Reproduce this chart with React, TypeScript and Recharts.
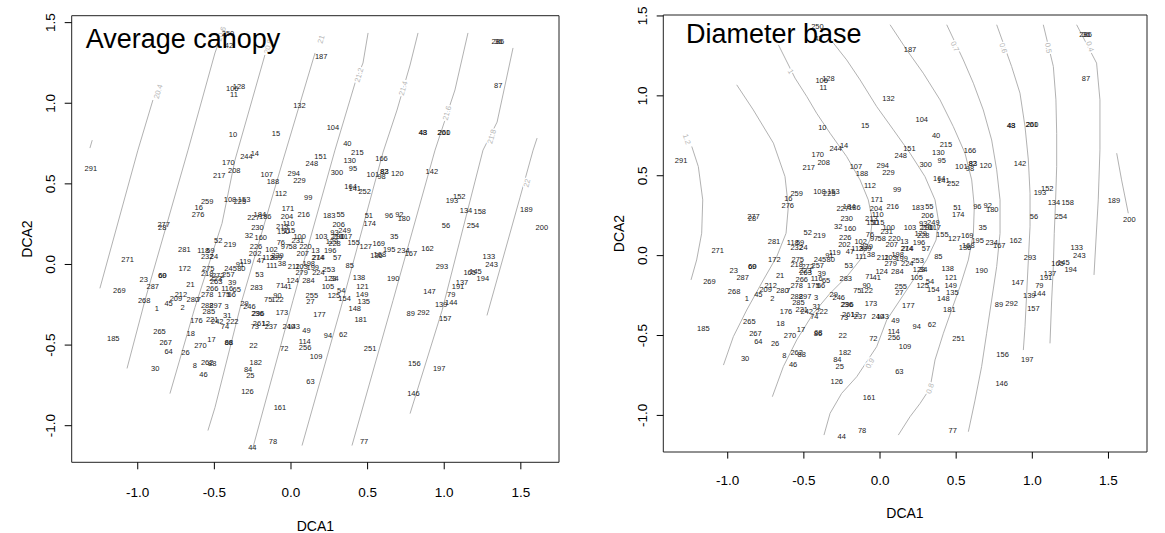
import { ScatterChart, Scatter, XAxis, YAxis, ReferenceArea } from 'recharts'

// DCA site scores (same ordination in both panels)
const siteIds = [
  '250', '42', '187', '286', '36', '87', '106', '128', '11', '132', '104', '10', '15', '48', '43', '201', '260',
  '40', '215', '14', '244', '151', '166', '130', '170', '248', '95', '208', '291', '142', '300', '107', '294',
  '101', '82', '83', '98', '120', '217', '188', '229', '164', '141', '252', '112', '99', '152', '193', '259',
  '108', '153', '225', '16', '189', '134', '158', '171', '276', '216', '227', '184', '186', '204', '183', '55',
  '51', '96', '92', '180', '206', '254', '56', '174', '110', '277', '28', '230', '213', '150', '115', '249',
  '93', '210', '290', '117', '103', '100', '35', '52', '219', '32', '160', '231', '155', '129', '228', '127',
  '169', '76', '97', '58', '220', '226', '102', '202', '281', '118', '59', '232', '24', '207', '13', '274',
  '214', '196', '57', '195', '234', '167', '136', '168', '162', '133', '243', '47', '113', '289', '239', '119',
  '91', '80', '245', '257', '111', '38', '172', '275', '218', '272', '223', '263', '39', '266', '278', '116',
  '65', '175', '66', '53', '211', '203', '198', '199', '279', '253', '224', '85', '293', '165', '145', '194',
  '23', '69', '60', '287', '21', '138', '190', '124', '284', '123', '34', '71', '41', '283', '121', '105',
  '54', '137', '191', '269', '147', '149', '125', '255', '90', '75', '122', '154', '79', '212', '209', '280',
  '7', '268', '45', '27', '135', '144', '139', '1', '2', '3', '288', '297', '285', '29', '246', '148', '89',
  '292', '173', '236', '296', '177', '31', '176', '221', '242', '222', '181', '157', '74', '261', '12', '73',
  '237', '240', '143', '49', '62', '94', '265', '18', '185', '17', '267', '86', '68', '270', '22', '114',
  '251', '72', '256', '64', '26', '109', '182', '156', '262', '88', '30', '8', '197', '84', '25', '46', '63',
  '126', '146', '161', '78', '77', '44', '200', '271',
]

const dca1 = [
  -0.411, -0.405, 0.197, 1.35, 1.353, 1.352, -0.383, -0.339, -0.372, 0.055, 0.274, -0.379, -0.098, 0.86, 0.862, 0.996, 0.999,
  0.368, 0.433, -0.236, -0.291, 0.193, 0.591, 0.383, -0.409, 0.136, 0.405, -0.37, -1.306, 0.919, 0.3, -0.158, 0.018,
  0.534, 0.608, 0.61, 0.591, 0.694, -0.468, -0.118, 0.055, 0.389, 0.416, 0.481, -0.066, 0.112, 1.098, 1.05, -0.547,
  -0.398, -0.306, -0.333, -0.602, 1.536, 1.142, 1.232, -0.02, -0.606, 0.083, -0.245, -0.203, -0.168, -0.026, 0.249, 0.324,
  0.508, 0.639, 0.707, 0.737, 0.311, 1.188, 1.011, 0.514, -0.015, -0.831, -0.84, -0.219, -0.057, -0.05, -0.011, 0.35,
  0.284, 0.3, 0.311, 0.361, 0.197, 0.057, 0.674, -0.475, -0.398, -0.274, -0.197, 0.044, 0.409, 0.267, 0.284, 0.488,
  0.573, -0.066, -0.039, 0.011, 0.094, -0.228, -0.127, -0.234, -0.696, -0.573, -0.525, -0.547, -0.503, 0.077, 0.16, 0.175,
  0.18, 0.256, 0.302, 0.641, 0.733, 0.783, 0.558, 0.58, 0.891, 1.291, 1.309, -0.197, -0.149, -0.098, -0.088, -0.298,
  -0.333, -0.324, -0.394, -0.409, -0.125, -0.059, -0.694, -0.54, -0.547, -0.475, -0.492, -0.488, -0.383, -0.514, -0.547, -0.416,
  -0.354, -0.438, -0.387, -0.206, 0.018, 0.07, 0.116, 0.142, 0.07, 0.247, 0.179, 0.383, 0.985, 1.166, 1.204, 1.252,
  -0.961, -0.84, -0.838, -0.902, -0.656, 0.444, 0.667, 0.011, 0.114, 0.256, 0.284, -0.07, -0.022, -0.225, 0.466, 0.241,
  0.328, 1.116, 1.09, -1.12, 0.904, 0.464, 0.28, 0.136, -0.088, -0.149, -0.088, 0.35, 1.046, -0.718, -0.751, -0.641,
  -0.602, -0.958, -0.799, 0.127, 0.475, 1.046, 0.98, -0.875, -0.707, -0.42, -0.547, -0.492, -0.536, -0.304, -0.271, 0.416, 0.781,
  0.864, -0.059, -0.219, -0.214, 0.186, -0.416, -0.617, -0.514, -0.481, -0.383, 0.455, 1.007, -0.431, -0.208, -0.164, -0.236,
  -0.131, -0.015, 0.018, 0.101, 0.341, 0.241, -0.858, -0.654, -1.16, -0.519, -0.818, -0.407, -0.405, -0.591, -0.245, 0.09,
  0.516, -0.044, 0.092, -0.799, -0.689, 0.164, -0.23, 0.805, -0.547, -0.514, -0.886, -0.628, 0.967, -0.28, -0.265, -0.571, 0.127,
  -0.284, 0.799, -0.072, -0.118, 0.477, -0.252, 1.637, -1.066,
]

const dca2 = [
  1.434, 1.357, 1.292, 1.386, 1.386, 1.109, 1.094, 1.106, 1.054, 0.985, 0.85, 0.804, 0.812, 0.816, 0.816, 0.82, 0.82,
  0.752, 0.697, 0.691, 0.668, 0.672, 0.656, 0.643, 0.635, 0.624, 0.593, 0.58, 0.593, 0.574, 0.57, 0.56, 0.564,
  0.56, 0.578, 0.578, 0.543, 0.564, 0.551, 0.514, 0.518, 0.482, 0.472, 0.451, 0.438, 0.413, 0.42, 0.395, 0.39,
  0.401, 0.401, 0.388, 0.355, 0.342, 0.334, 0.33, 0.349, 0.311, 0.309, 0.292, 0.307, 0.299, 0.296, 0.303, 0.307,
  0.303, 0.305, 0.311, 0.286, 0.251, 0.242, 0.242, 0.255, 0.255, 0.248, 0.23, 0.23, 0.234, 0.205, 0.209, 0.209,
  0.198, 0.175, 0.175, 0.175, 0.175, 0.175, 0.175, 0.146, 0.125, 0.182, 0.169, 0.15, 0.134, 0.14, 0.127, 0.109,
  0.127, 0.134, 0.109, 0.109, 0.109, 0.111, 0.09, 0.071, 0.09, 0.084, 0.084, 0.05, 0.05, 0.067, 0.086, 0.046,
  0.046, 0.084, 0.042, 0.092, 0.084, 0.065, 0.054, 0.061, 0.096, 0.052, -0.002, 0.027, 0.044, 0.044, 0.056, 0.021,
  -0.002, -0.023, -0.027, -0.063, -0.008, 0.004, -0.027, -0.027, -0.054, -0.069, -0.09, -0.106, -0.111, -0.148, -0.184, -0.146,
  -0.157, -0.184, -0.184, -0.063, -0.013, -0.013, 0.008, -0.017, -0.048, -0.033, -0.052, -0.006, -0.013, -0.048, -0.044, -0.084,
  -0.094, -0.069, -0.069, -0.136, -0.127, -0.081, -0.09, -0.1, -0.1, -0.086, -0.086, -0.132, -0.138, -0.142, -0.138, -0.138,
  -0.161, -0.111, -0.138, -0.163, -0.169, -0.188, -0.19, -0.194, -0.19, -0.217, -0.217, -0.213, -0.188, -0.188, -0.213, -0.219,
  -0.219, -0.226, -0.242, -0.23, -0.23, -0.236, -0.251, -0.271, -0.267, -0.261, -0.253, -0.253, -0.292, -0.244, -0.263, -0.271, -0.303,
  -0.299, -0.299, -0.303, -0.303, -0.309, -0.319, -0.347, -0.34, -0.351, -0.351, -0.34, -0.334, -0.382, -0.367, -0.367, -0.386,
  -0.382, -0.382, -0.382, -0.409, -0.432, -0.441, -0.415, -0.426, -0.457, -0.463, -0.486, -0.486, -0.484, -0.501, -0.501, -0.476,
  -0.52, -0.52, -0.514, -0.539, -0.549, -0.568, -0.608, -0.616, -0.608, -0.616, -0.643, -0.628, -0.647, -0.653, -0.691, -0.683, -0.727,
  -0.787, -0.8, -0.885, -1.096, -1.096, -1.134, 0.228, 0.029,
]

// fitted surface contours, [DCA1, DCA2] along each line
const canopyContours = [
  { level: '', label: null, pts: [[-1.312, 0.722], [-1.297, 0.771]] },
  { level: '20.4', label: [-0.866, 1.072], pts: [[-1.247, -0.148], [-0.999, 0.709], [-0.901, 1.02]] },
  { level: '20.6', label: [-0.455, 1.43], pts: [[-1.07, -0.645], [-0.953, -0.223], [-0.672, 0.709], [-0.496, 1.312], [-0.47, 1.38]] },
  { level: '20.8', label: [-0.148, 1.351], pts: [[-0.79, -0.801], [-0.627, -0.267], [-0.45, 0.255], [-0.366, 0.646], [-0.17, 1.3]] },
  { level: '21', label: [0.196, 1.397], pts: [[-0.542, -1.03], [-0.496, -0.887], [-0.32, -0.223], [-0.052, 0.647], [0.157, 1.312]] },
  { level: '21.2', label: [0.444, 1.175], pts: [[-0.248, -1.135], [0.013, -0.223], [0.287, 0.709], [0.418, 1.125], [0.47, 1.25], [0.503, 1.436]] },
  { level: '21.4', label: [0.733, 1.093], pts: [[0.072, -1.123], [0.339, -0.223], [0.601, 0.697], [0.692, 0.958], [0.777, 1.237], [0.829, 1.436]] },
  { level: '21.6', label: [1.018, 0.939], pts: [[0.398, -1.123], [0.666, -0.223], [0.94, 0.709], [1.07, 1.082], [1.155, 1.436]] },
  { level: '21.8', label: [1.31, 0.793], pts: [[0.777, -0.925], [0.986, -0.285], [1.253, 0.709], [1.345, 0.883], [1.449, 1.343]] },
  { level: '22', label: [1.54, 0.505], pts: [[1.279, -0.316], [1.495, 0.417], [1.58, 0.709], [1.606, 0.784]] },
]

const diameterContours = [
  { level: '1.2', label: [-1.269, 0.729], pts: [[-1.236, 0.683], [-1.193, 0.557], [-1.164, 0.349], [-1.171, 0.14], [-1.204, -0.027], [-1.241, -0.152]] },
  { level: '', label: null, pts: [[-0.941, 1.069], [-0.832, 0.912], [-0.7, 0.704], [-0.624, 0.495], [-0.602, 0.307], [-0.617, 0.14], [-0.678, -0.006], [-0.766, -0.152], [-0.875, -0.34], [-0.963, -0.507], [-1.028, -0.685]] },
  { level: '1', label: [-0.586, 1.152], pts: [[-0.667, 1.319], [-0.558, 1.111], [-0.481, 0.996], [-0.416, 0.891], [-0.328, 0.766], [-0.219, 0.62], [-0.131, 0.474], [-0.077, 0.349], [-0.05, 0.223], [-0.066, 0.098], [-0.131, -0.027], [-0.219, -0.132], [-0.328, -0.236], [-0.438, -0.361], [-0.547, -0.528], [-0.635, -0.695], [-0.707, -0.883]] },
  { level: '0.9', label: [-0.066, -0.674], pts: [[-0.306, 1.33], [-0.219, 1.225], [-0.131, 1.1], [-0.022, 0.933], [0.088, 0.787], [0.197, 0.641], [0.295, 0.495], [0.361, 0.349], [0.383, 0.223], [0.368, 0.098], [0.306, -0.027], [0.219, -0.152], [0.131, -0.278], [0.044, -0.403], [-0.022, -0.57], [-0.153, -0.758], [-0.252, -0.862], [-0.328, -0.987], [-0.368, -1.123]] },
  { level: '0.8', label: [0.328, -0.831], pts: [[0.066, 1.445], [0.175, 1.288], [0.284, 1.142], [0.394, 0.975], [0.481, 0.808], [0.558, 0.641], [0.602, 0.474], [0.619, 0.307], [0.613, 0.14], [0.58, -0.027], [0.525, -0.194], [0.47, -0.34], [0.416, -0.486], [0.361, -0.653], [0.328, -0.831], [0.263, -0.925], [0.197, -1.008], [0.12, -1.123]] },
  { level: '0.7', label: [0.492, 1.309], pts: [[0.438, 1.445], [0.547, 1.225], [0.613, 1.079], [0.678, 0.912], [0.733, 0.724], [0.766, 0.537], [0.788, 0.349], [0.788, 0.14], [0.766, -0.069], [0.733, -0.278], [0.7, -0.486], [0.667, -0.695], [0.624, -0.904], [0.58, -1.102]] },
  { level: '0.6', label: [0.81, 1.299], pts: [[0.766, 1.445], [0.864, 1.184], [0.919, 1.017], [0.952, 0.808], [0.974, 0.599], [0.985, 0.39], [0.985, 0.182], [0.974, -0.027], [0.963, -0.236], [0.952, -0.445], [0.941, -0.591]] },
  { level: '0.5', label: [1.105, 1.299], pts: [[1.072, 1.445], [1.138, 1.184], [1.155, 0.975], [1.16, 0.766], [1.16, 0.557], [1.153, 0.349], [1.144, 0.14], [1.138, -0.069], [1.127, -0.278], [1.116, -0.549]] },
  { level: '0.4', label: [1.379, 1.309], pts: [[1.291, 1.445], [1.422, 1.205], [1.444, 0.975], [1.444, 0.662], [1.433, 0.349], [1.418, 0.098], [1.405, -0.121]] },
  { level: '', label: null, pts: [[1.554, 0.641], [1.586, 0.474], [1.63, 0.265]] },
]

const TICKS = [-1, -0.5, 0, 0.5, 1, 1.5]
const FONT = '"Liberation Sans", Arial, Helvetica, sans-serif'

const sites = siteIds.map((id, i) => ({ id, x: dca1[i], y: dca2[i] }))

type Contour = { level: string; label: number[] | null; pts: number[][] }

interface PanelProps {
  left: number
  width: number
  margin: { top: number; right: number }
  yAxisWidth: number
  xAxisHeight: number
  xDomain: [number, number]
  yDomain: [number, number]
  pxPerX: number
  pxPerY: number
  yLabelX: number
  xLabelY: number
  tickSize: number
  contours: Contour[]
}

// angle of the contour near its label, in screen degrees, kept readable
function labelAngle(c: Contour, kx: number, ky: number) {
  const [lx, ly] = c.label as number[]
  let best = 0
  let bestD = Infinity
  c.pts.forEach(([x, y], i) => {
    const d = (x - lx) ** 2 + (y - ly) ** 2
    if (d < bestD) { bestD = d; best = i }
  })
  const a = c.pts[Math.max(best - 1, 0)]
  const b = c.pts[Math.min(best + 1, c.pts.length - 1)]
  let deg = Math.atan2(-(b[1] - a[1]) * ky, (b[0] - a[0]) * kx) * 180 / Math.PI
  if (deg > 90) deg -= 180
  if (deg < -90) deg += 180
  return deg
}

function Panel(p: PanelProps) {
  const [x0, x1] = p.xDomain
  const [y0, y1] = p.yDomain
  return (
    <div style={{ position: 'absolute', left: p.left, top: 0 }}>
      <ScatterChart
        width={p.width}
        height={533}
        margin={{ top: p.margin.top, right: p.margin.right, bottom: 0, left: 0 }}
      >
        <XAxis
          type="number" dataKey="x" domain={p.xDomain} ticks={TICKS} allowDataOverflow
          height={p.xAxisHeight} axisLine={false} tickSize={p.tickSize}
          tickLine={{ stroke: '#000' }}
          tick={(t: any) => (
            <text x={t.x} y={p.xLabelY} textAnchor="middle" fontSize={13.5} fontFamily={FONT} fill="#000">
              {Number(t.payload.value).toFixed(1)}
            </text>
          )}
        />
        <YAxis
          type="number" dataKey="y" domain={p.yDomain} ticks={TICKS} allowDataOverflow
          width={p.yAxisWidth} axisLine={false} tickSize={p.tickSize}
          tickLine={{ stroke: '#000' }}
          tick={(t: any) => (
            <text
              x={p.yLabelX} y={t.y} textAnchor="middle" fontSize={13.5} fontFamily={FONT} fill="#000"
              transform={`rotate(-90 ${p.yLabelX} ${t.y})`}
            >
              {Number(t.payload.value).toFixed(1)}
            </text>
          )}
        />
        <ReferenceArea x1={x0} x2={x1} y1={y0} y2={y1} fill="none" stroke="#222" strokeWidth={1} ifOverflow="visible" />

        {p.contours.map((c, i) => (
          <Scatter
            key={`c${i}`}
            data={c.pts.map(([x, y]) => ({ x, y }))}
            line={{ stroke: '#a8a8a8', strokeWidth: 0.9 }}
            lineType="joint"
            shape={() => <g />}
            isAnimationActive={false}
          />
        ))}

        {p.contours.filter(c => c.label).map((c, i) => {
          const ang = labelAngle(c, p.pxPerX, p.pxPerY)
          return (
            <Scatter
              key={`l${i}`}
              data={[{ x: (c.label as number[])[0], y: (c.label as number[])[1] }]}
              isAnimationActive={false}
              shape={(s: any) => (
                <text
                  x={s.cx} y={s.cy} textAnchor="middle" dominantBaseline="central"
                  fontSize={7.5} fontFamily={FONT} fill="#b4b4b4"
                  stroke="#fff" strokeWidth={3} paintOrder="stroke"
                  transform={`rotate(${ang} ${s.cx} ${s.cy})`}
                >
                  {c.level}
                </text>
              )}
            />
          )
        })}

        <Scatter
          data={sites}
          isAnimationActive={false}
          shape={(s: any) => (
            <text
              x={s.cx} y={s.cy} textAnchor="middle" dominantBaseline="central"
              fontSize={7.5} fontFamily={FONT} fill="#1a1a1a"
            >
              {s.payload.id}
            </text>
          )}
        />
      </ScatterChart>
    </div>
  )
}

export default function App() {
  return (
    <div style={{ position: 'absolute', left: 0, top: 0, width: 1165, height: 533, background: '#fff' }}>
      <Panel
        left={0} width={580}
        margin={{ top: 15.7, right: 21 }}
        yAxisWidth={71.7} xAxisHeight={70.7}
        xDomain={[-1.431, 1.749]} yDomain={[-1.227, 1.543]}
        pxPerX={153.2} pxPerY={161.2}
        yLabelX={55} xLabelY={496.6} tickSize={7}
        contours={canopyContours}
      />
      <Panel
        left={580} width={585}
        margin={{ top: 15, right: 18 }}
        yAxisWidth={83.3} xAxisHeight={81}
        xDomain={[-1.423, 1.753]} yDomain={[-1.229, 1.506]}
        pxPerX={152.3} pxPerY={159.7}
        yLabelX={66.6} xLabelY={484.9} tickSize={6.6}
        contours={diameterContours}
      />

      {/* panel titles and axis titles */}
      <svg width={1165} height={533} style={{ position: 'absolute', left: 0, top: 0, pointerEvents: 'none' }}>
        <g fontFamily={FONT} fill="#000">
          <text x={85.7} y={47.6} fontSize={27}>Average canopy</text>
          <text x={686} y={42.7} fontSize={27}>Diameter base</text>
          <text x={315.4} y={531} fontSize={14} textAnchor="middle">DCA1</text>
          <text x={905} y={518.3} fontSize={14} textAnchor="middle">DCA1</text>
          <text x={31.7} y={239} fontSize={14} textAnchor="middle" transform="rotate(-90 31.7 239)">DCA2</text>
          <text x={624} y={233.5} fontSize={14} textAnchor="middle" transform="rotate(-90 624 233.5)">DCA2</text>
        </g>
      </svg>
    </div>
  )
}
